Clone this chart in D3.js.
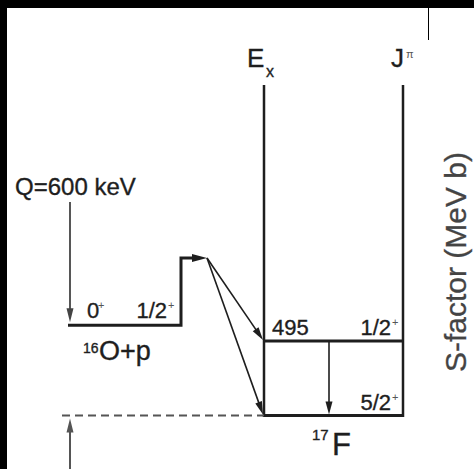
<!DOCTYPE html>
<html><head><meta charset="utf-8">
<script src="https://cdn.jsdelivr.net/npm/d3@7"></script>
<style>
html,body{margin:0;padding:0;background:#fff;}
svg{display:block;}
text{font-family:"Liberation Sans",Arial,Helvetica,sans-serif;}
</style></head>
<body>
<script>
// ---- data (keV) ----
const finalLevels = [0, 495];            // 17F levels
const finalSpins = ["5/2", "1/2"];       // J for each 17F level
const finalParity = ["+", "+"];
const shownEnergyLabels = ["", "495"];
const entranceEnergy = 600;              // Q value, 16O+p threshold above 17F g.s.
const entranceSpins = ["0", "1/2"];
const entranceParity = ["+", "+"];
const barrierEnergy = 1046;              // schematic barrier top
const qLabel = "Q=600 keV";
const axisLabel = "S-factor (MeV b)";

const W = 474, H = 469;
const svg = d3.select("body").append("svg").attr("width", W).attr("height", H);
svg.append("rect").attr("width", W).attr("height", H).attr("fill", "#fff");
// black frame pieces
svg.append("rect").attr("x",0).attr("y",0).attr("width",W).attr("height",8).attr("fill","#000");
svg.append("rect").attr("x",0).attr("y",0).attr("width",7).attr("height",H).attr("fill","#000");
svg.append("line").attr("x1",428.5).attr("x2",428.5).attr("y1",8).attr("y2",40).attr("stroke","#000").attr("stroke-width",1);

const y = d3.scaleLinear().domain([0, 495]).range([415.5, 341]);

const xEx = 264, xJ = 403;
const xL0 = 68, xL1 = 181, xBar = 207, xQ = 70, xGamma = 329;
const dark = "#1e1e1e";

function arrow(x1, y1, x2, y2, color, sw, hl, hw) {
  const dx = x2 - x1, dy = y2 - y1, L = Math.hypot(dx, dy);
  const ux = dx / L, uy = dy / L;
  const bx = x2 - ux * hl, by = y2 - uy * hl;
  svg.append("line").attr("x1", x1).attr("y1", y1).attr("x2", bx + ux*2).attr("y2", by + uy*2)
    .attr("stroke", color).attr("stroke-width", sw);
  const px = -uy, py = ux;
  svg.append("path").attr("d", `M${x2},${y2}L${bx + px*hw/2},${by + py*hw/2}L${bx - px*hw/2},${by - py*hw/2}Z`)
    .attr("fill", color);
}

// vertical axes of 17F
[xEx, xJ].forEach(x => svg.append("line").attr("x1", x).attr("x2", x)
  .attr("y1", 85).attr("y2", y(0) + 1.5).attr("stroke", dark).attr("stroke-width", 2.5));

// 17F levels
finalLevels.forEach(e => svg.append("line").attr("x1", xEx).attr("x2", xJ + 1)
  .attr("y1", y(e)).attr("y2", y(e)).attr("stroke", dark).attr("stroke-width", 3));

// dashed g.s. reference
svg.append("line").attr("x1", 62).attr("x2", xEx).attr("y1", y(0)).attr("y2", y(0))
  .attr("stroke", "#555").attr("stroke-width", 2).attr("stroke-dasharray", "8,5");

// entrance channel + barrier
const yE = y(entranceEnergy), yB = y(barrierEnergy);
svg.append("path").attr("d", `M${xL0},${yE}H${xL1}V${yB}H${xBar - 14}`)
  .attr("fill", "none").attr("stroke", dark).attr("stroke-width", 3);
arrow(xBar - 16, yB, xBar, yB, dark, 2, 15, 8);

// decay arrows to 17F levels
finalLevels.slice().reverse().forEach(e => arrow(xBar, yB, xEx - 1, y(e) - 1, dark, 1.6, 13, 7));

// gamma transition
arrow(xGamma, y(finalLevels[1]), xGamma, y(finalLevels[0]) - 1, dark, 1.6, 13, 7);

// Q arrow and lower arrow
arrow(xQ, 202, xQ, yE - 3, "#444", 1.8, 14, 7);
arrow(xQ, H, xQ, y(0) + 3, "#555", 2, 14, 7);

// text helpers
function txt(x, yy, s, size, opts = {}) {
  return svg.append("text").attr("x", x).attr("y", yy).attr("font-size", size)
    .attr("fill", opts.fill || dark).attr("stroke", opts.fill || dark)
    .attr("stroke-width", opts.sw != null ? opts.sw : 0.35)
    .attr("text-anchor", opts.anchor || "start").text(s);
}
function spin(xRight, yy, j, p, size) {
  txt(xRight - 6, yy, j, size, {anchor: "end"});
  txt(xRight - 5, yy - 9, p, 11, {fill: "#555", sw: 0});
}

txt(15, 195, qLabel, 24);

// entrance spins
txt(87, 318, entranceSpins[0], 22);
txt(98, 309, entranceParity[0], 11, {fill: "#555", sw: 0});
spin(173, 318, entranceSpins[1], entranceParity[1], 22);

// 16O+p label
txt(83, 353, "16", 14);
txt(99, 360, "O+p", 27);

// 17F labels
txt(272, 335, shownEnergyLabels[1], 22);
spin(xJ - 6, 335, finalSpins[1], finalParity[1], 22);
spin(xJ - 6, 410, finalSpins[0], finalParity[0], 22);
txt(312, 440, "17", 15);
txt(332, 455, "F", 31);

// column headers
txt(247, 67, "E", 26);
txt(266, 77, "x", 16);
txt(391, 67, "J", 26);
txt(406, 58, "\u03c0", 11, {fill: "#555", sw: 0});

// rotated axis label
svg.append("text").attr("transform", "translate(466,262) rotate(-90)")
  .attr("text-anchor", "middle").attr("font-size", 30).attr("fill", "#444")
  .attr("stroke", "#444").attr("stroke-width", 0.3).text(axisLabel);
</script>
</body></html>
